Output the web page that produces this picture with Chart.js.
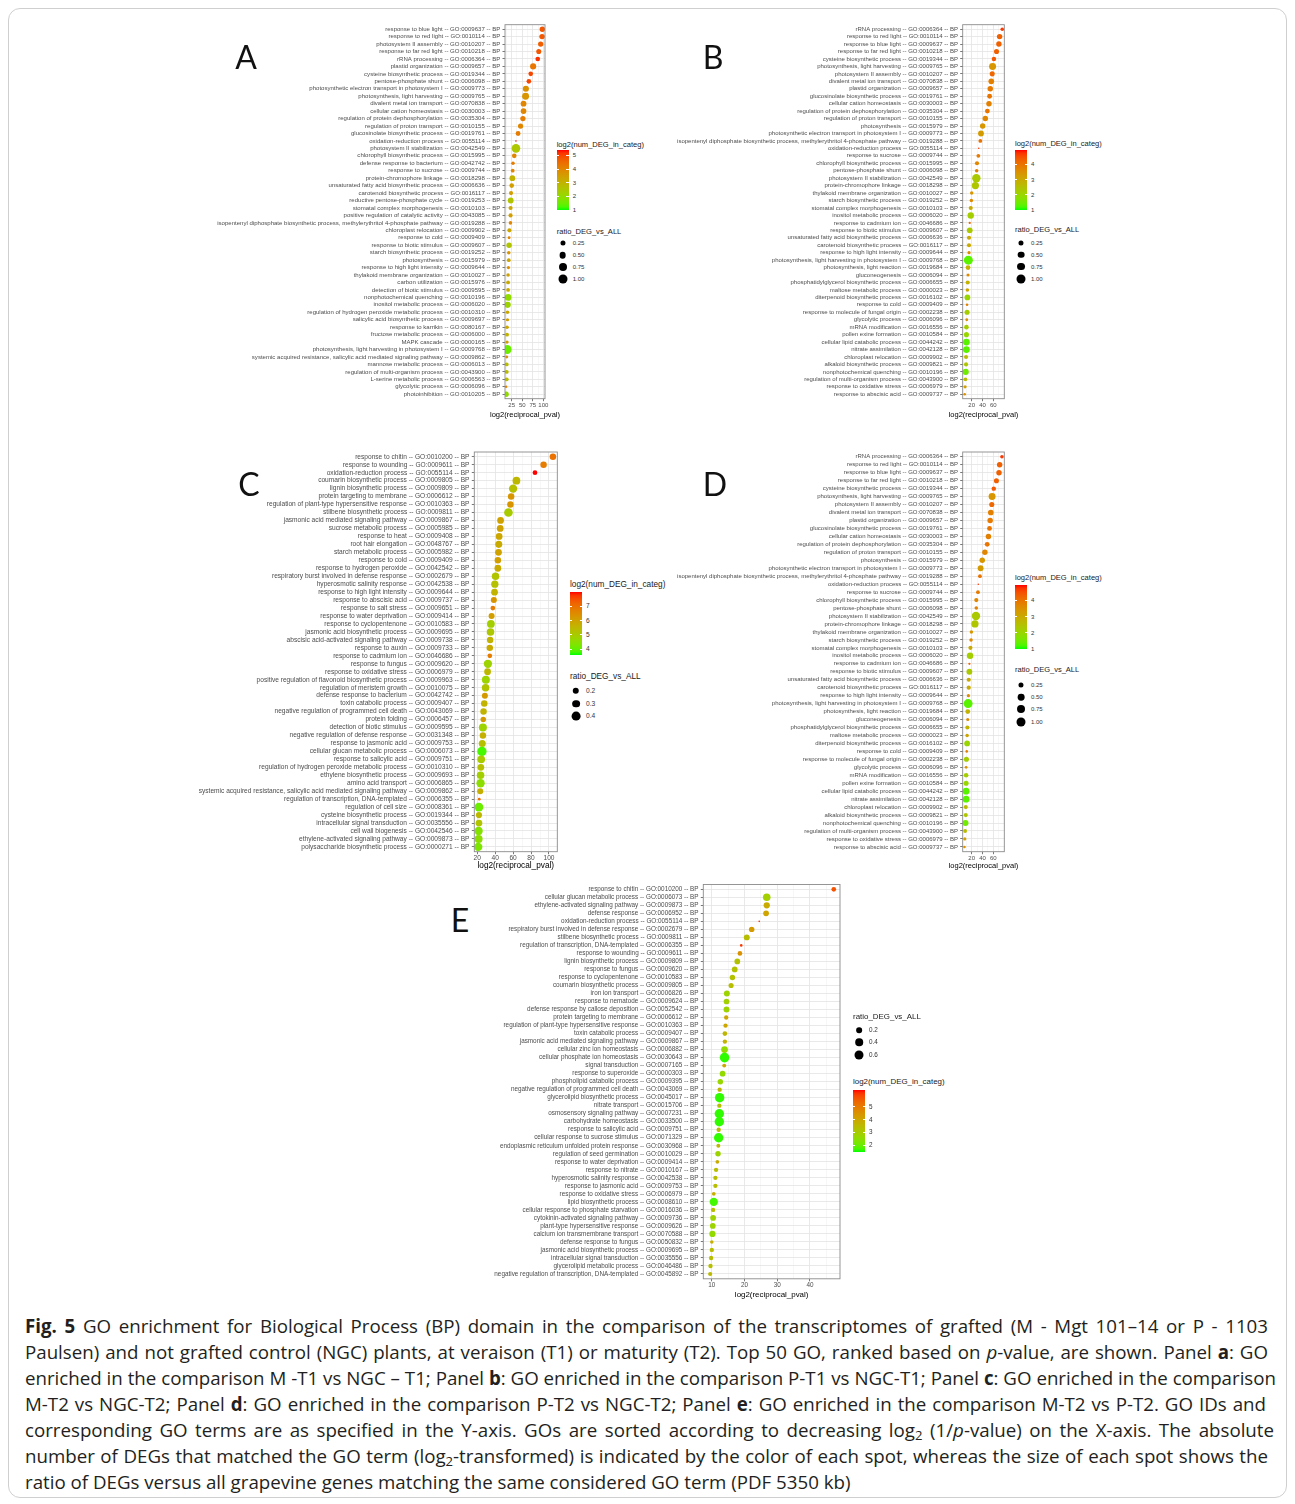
<!DOCTYPE html>
<html>
<head>
<meta charset="utf-8">
<script src="https://cdn.jsdelivr.net/npm/chart.js@4.4.1/dist/chart.umd.min.js"></script>
<style>
  html, body { margin:0; padding:0; background:#fff; }
  body { width:1295px; height:1504px; position:relative; overflow:hidden; }
  #frame { position:absolute; left:8px; top:8px; width:1279px; height:1490px; border:1px solid #cfcfcf; border-radius:12px; box-sizing:border-box; }
  canvas { position:absolute; }
  .letter { position:absolute; font-family:Lato, "Open Sans", sans-serif; font-size:32px; line-height:1; color:#111; transform:translate(-50%,-50%); }
  .lg { position:absolute; font-family:"Liberation Sans", Arial, sans-serif; color:#1a1a1a; white-space:nowrap; line-height:1; transform:translateY(-50%); }
  .xt { position:absolute; font-family:"Liberation Sans", Arial, sans-serif; color:#000; white-space:nowrap; line-height:1; transform:translate(-50%,-50%); }
  .dot { position:absolute; border-radius:50%; background:#000; transform:translate(-50%,-50%); }
  .bar { position:absolute; }
  .tk { position:absolute; background:#fff; height:1px; }
  #caption { position:absolute; left:25px; top:1313px; font-family:"Open Sans", sans-serif; font-size:18px; line-height:26px; color:#231f20; }
  #caption div { white-space:nowrap; display:block; }
  #caption span.l { display:inline-block; }
  sub { font-size:0.7em; vertical-align:-0.25em; line-height:0; }
</style>
</head>
<body>
<div id="frame"></div>
<div id="root"></div>
<div id="caption">
<div><span class="l"><b>Fig. 5</b> GO enrichment for Biological Process (BP) domain in the comparison of the transcriptomes of grafted (M - Mgt 101–14 or P - 1103</span></div>
<div><span class="l">Paulsen) and not grafted control (NGC) plants, at veraison (T1) or maturity (T2). Top 50 GO, ranked based on <i>p</i>-value, are shown. Panel <b>a</b>: GO</span></div>
<div><span class="l">enriched in the comparison M -T1 vs NGC – T1; Panel <b>b</b>: GO enriched in the comparison P-T1 vs NGC-T1; Panel <b>c</b>: GO enriched in the comparison</span></div>
<div><span class="l">M-T2 vs NGC-T2; Panel <b>d</b>: GO enriched in the comparison P-T2 vs NGC-T2; Panel <b>e</b>: GO enriched in the comparison M-T2 vs P-T2. GO IDs and</span></div>
<div><span class="l">corresponding GO terms are as specified in the Y-axis. GOs are sorted according to decreasing log<sub>2</sub> (1/<i>p</i>-value) on the X-axis. The absolute</span></div>
<div><span class="l">number of DEGs that matched the GO term (log<sub>2</sub>-transformed) is indicated by the color of each spot, whereas the size of each spot shows the</span></div>
<div><span class="l">ratio of DEGs versus all grapevine genes matching the same considered GO term (PDF 5350 kb)</span></div>
</div>
<script>
// ---------------- DATA ----------------
const termsA = [
'response to blue light -- GO:0009637 -- BP',
'response to red light -- GO:0010114 -- BP',
'photosystem II assembly -- GO:0010207 -- BP',
'response to far red light -- GO:0010218 -- BP',
'rRNA processing -- GO:0006364 -- BP',
'plastid organization -- GO:0009657 -- BP',
'cysteine biosynthetic process -- GO:0019344 -- BP',
'pentose-phosphate shunt -- GO:0006098 -- BP',
'photosynthetic electron transport in photosystem I -- GO:0009773 -- BP',
'photosynthesis, light harvesting -- GO:0009765 -- BP',
'divalent metal ion transport -- GO:0070838 -- BP',
'cellular cation homeostasis -- GO:0030003 -- BP',
'regulation of protein dephosphorylation -- GO:0035304 -- BP',
'regulation of proton transport -- GO:0010155 -- BP',
'glucosinolate biosynthetic process -- GO:0019761 -- BP',
'oxidation-reduction process -- GO:0055114 -- BP',
'photosystem II stabilization -- GO:0042549 -- BP',
'chlorophyll biosynthetic process -- GO:0015995 -- BP',
'defense response to bacterium -- GO:0042742 -- BP',
'response to sucrose -- GO:0009744 -- BP',
'protein-chromophore linkage -- GO:0018298 -- BP',
'unsaturated fatty acid biosynthetic process -- GO:0006636 -- BP',
'carotenoid biosynthetic process -- GO:0016117 -- BP',
'reductive pentose-phosphate cycle -- GO:0019253 -- BP',
'stomatal complex morphogenesis -- GO:0010103 -- BP',
'positive regulation of catalytic activity -- GO:0043085 -- BP',
'isopentenyl diphosphate biosynthetic process, methylerythritol 4-phosphate pathway -- GO:0019288 -- BP',
'chloroplast relocation -- GO:0009902 -- BP',
'response to cold -- GO:0009409 -- BP',
'response to biotic stimulus -- GO:0009607 -- BP',
'starch biosynthetic process -- GO:0019252 -- BP',
'photosynthesis -- GO:0015979 -- BP',
'response to high light intensity -- GO:0009644 -- BP',
'thylakoid membrane organization -- GO:0010027 -- BP',
'carbon utilization -- GO:0015976 -- BP',
'detection of biotic stimulus -- GO:0009595 -- BP',
'nonphotochemical quenching -- GO:0010196 -- BP',
'inositol metabolic process -- GO:0006020 -- BP',
'regulation of hydrogen peroxide metabolic process -- GO:0010310 -- BP',
'salicylic acid biosynthetic process -- GO:0009697 -- BP',
'response to karrikin -- GO:0080167 -- BP',
'fructose metabolic process -- GO:0006000 -- BP',
'MAPK cascade -- GO:0000165 -- BP',
'photosynthesis, light harvesting in photosystem I -- GO:0009768 -- BP',
'systemic acquired resistance, salicylic acid mediated signaling pathway -- GO:0009862 -- BP',
'mannose metabolic process -- GO:0006013 -- BP',
'regulation of multi-organism process -- GO:0043900 -- BP',
'L-serine metabolic process -- GO:0006563 -- BP',
'glycolytic process -- GO:0006096 -- BP',
'photoinhibition -- GO:0010205 -- BP'
];
const xA = [97.5,96.8,93.6,89,86.6,75.7,70,65.6,58.5,57.8,53,53,51.5,46,40,35,35,31,28,27.3,26.5,25,23.4,22.6,22.3,22.3,22,19.5,18.8,18.8,18,18,17.2,16.4,16.4,16.4,16.4,15.6,15,15,14,14,14,14,13.3,13.3,13.3,13.3,11.7,11.7];
const cA = [4.8,4.8,4.7,4.8,5.2,4.3,5.0,5.0,3.8,3.7,4.0,4.0,4.2,4.0,4.2,5.4,2.5,4.0,4.2,4.0,3.0,3.5,3.5,2.6,3.3,3.5,4.0,3.3,4.0,2.6,3.7,3.3,3.8,3.4,3.2,3.2,2.0,2.2,3.3,3.5,3.3,3.0,3.5,1.5,3.8,2.8,2.8,2.8,4.0,2.0];
const sA = [0.3,0.3,0.28,0.25,0.2,0.4,0.2,0.2,0.4,0.55,0.35,0.33,0.28,0.27,0.22,0.03,0.9,0.2,0.1,0.12,0.35,0.2,0.15,0.35,0.15,0.15,0.1,0.15,0.06,0.3,0.1,0.12,0.08,0.1,0.12,0.12,0.5,0.4,0.1,0.08,0.1,0.12,0.08,1.0,0.06,0.12,0.12,0.12,0.05,0.3];

const termsB = [
'rRNA processing -- GO:0006364 -- BP',
'response to red light -- GO:0010114 -- BP',
'response to blue light -- GO:0009637 -- BP',
'response to far red light -- GO:0010218 -- BP',
'cysteine biosynthetic process -- GO:0019344 -- BP',
'photosynthesis, light harvesting -- GO:0009765 -- BP',
'photosystem II assembly -- GO:0010207 -- BP',
'divalent metal ion transport -- GO:0070838 -- BP',
'plastid organization -- GO:0009657 -- BP',
'glucosinolate biosynthetic process -- GO:0019761 -- BP',
'cellular cation homeostasis -- GO:0030003 -- BP',
'regulation of protein dephosphorylation -- GO:0035304 -- BP',
'regulation of proton transport -- GO:0010155 -- BP',
'photosynthesis -- GO:0015979 -- BP',
'photosynthetic electron transport in photosystem I -- GO:0009773 -- BP',
'isopentenyl diphosphate biosynthetic process, methylerythritol 4-phosphate pathway -- GO:0019288 -- BP',
'oxidation-reduction process -- GO:0055114 -- BP',
'response to sucrose -- GO:0009744 -- BP',
'chlorophyll biosynthetic process -- GO:0015995 -- BP',
'pentose-phosphate shunt -- GO:0006098 -- BP',
'photosystem II stabilization -- GO:0042549 -- BP',
'protein-chromophore linkage -- GO:0018298 -- BP',
'thylakoid membrane organization -- GO:0010027 -- BP',
'starch biosynthetic process -- GO:0019252 -- BP',
'stomatal complex morphogenesis -- GO:0010103 -- BP',
'inositol metabolic process -- GO:0006020 -- BP',
'response to cadmium ion -- GO:0046686 -- BP',
'response to biotic stimulus -- GO:0009607 -- BP',
'unsaturated fatty acid biosynthetic process -- GO:0006636 -- BP',
'carotenoid biosynthetic process -- GO:0016117 -- BP',
'response to high light intensity -- GO:0009644 -- BP',
'photosynthesis, light harvesting in photosystem I -- GO:0009768 -- BP',
'photosynthesis, light reaction -- GO:0019684 -- BP',
'gluconeogenesis -- GO:0006094 -- BP',
'phosphatidylglycerol biosynthetic process -- GO:0006655 -- BP',
'maltose metabolic process -- GO:0000023 -- BP',
'diterpenoid biosynthetic process -- GO:0016102 -- BP',
'response to cold -- GO:0009409 -- BP',
'response to molecule of fungal origin -- GO:0002238 -- BP',
'glycolytic process -- GO:0006096 -- BP',
'mRNA modification -- GO:0016556 -- BP',
'pollen exine formation -- GO:0010584 -- BP',
'cellular lipid catabolic process -- GO:0044242 -- BP',
'nitrate assimilation -- GO:0042128 -- BP',
'chloroplast relocation -- GO:0009902 -- BP',
'alkaloid biosynthetic process -- GO:0009821 -- BP',
'nonphotochemical quenching -- GO:0010196 -- BP',
'regulation of multi-organism process -- GO:0043900 -- BP',
'response to oxidative stress -- GO:0006979 -- BP',
'response to abscisic acid -- GO:0009737 -- BP'
];
const xB = [76.6,71.7,70.4,66,61.2,58.7,58,56.3,54.4,53.2,52,49,45.2,40.3,37.2,36,33,32.3,29.8,29.2,28.6,26.8,20,19.4,18.2,18.2,16.3,16.3,15,15,15,13.8,13.2,13.2,12.6,12,12,11.4,11.4,10.8,10.2,10.2,10.2,10.2,9.5,9.5,8.9,8.3,7.7,7];
const cB = [4.7,4.3,4.3,4.3,4.4,3.4,4.2,3.8,3.9,4.0,3.8,4.0,3.7,3.4,3.3,4.0,4.7,3.9,3.7,3.8,2.3,2.4,3.4,3.6,3.0,2.2,4.2,2.3,3.0,3.0,3.6,1.3,2.8,3.6,2.8,3.1,2.0,3.8,2.2,3.5,2.2,2.0,1.3,1.3,2.6,2.4,1.5,2.6,3.2,3.5];
const sB = [0.1,0.3,0.3,0.25,0.18,0.55,0.25,0.33,0.3,0.22,0.3,0.22,0.3,0.3,0.35,0.12,0.03,0.12,0.15,0.1,0.85,0.6,0.1,0.1,0.15,0.45,0.04,0.35,0.15,0.15,0.08,1.0,0.22,0.07,0.15,0.1,0.35,0.05,0.25,0.06,0.2,0.25,0.5,0.5,0.15,0.15,0.4,0.12,0.08,0.05];

const termsC = [
'response to chitin -- GO:0010200 -- BP',
'response to wounding -- GO:0009611 -- BP',
'oxidation-reduction process -- GO:0055114 -- BP',
'coumarin biosynthetic process -- GO:0009805 -- BP',
'lignin biosynthetic process -- GO:0009809 -- BP',
'protein targeting to membrane -- GO:0006612 -- BP',
'regulation of plant-type hypersensitive response -- GO:0010363 -- BP',
'stilbene biosynthetic process -- GO:0009811 -- BP',
'jasmonic acid mediated signaling pathway -- GO:0009867 -- BP',
'sucrose metabolic process -- GO:0005985 -- BP',
'response to heat -- GO:0009408 -- BP',
'root hair elongation -- GO:0048767 -- BP',
'starch metabolic process -- GO:0005982 -- BP',
'response to cold -- GO:0009409 -- BP',
'response to hydrogen peroxide -- GO:0042542 -- BP',
'respiratory burst involved in defense response -- GO:0002679 -- BP',
'hyperosmotic salinity response -- GO:0042538 -- BP',
'response to high light intensity -- GO:0009644 -- BP',
'response to abscisic acid -- GO:0009737 -- BP',
'response to salt stress -- GO:0009651 -- BP',
'response to water deprivation -- GO:0009414 -- BP',
'response to cyclopentenone -- GO:0010583 -- BP',
'jasmonic acid biosynthetic process -- GO:0009695 -- BP',
'abscisic acid-activated signaling pathway -- GO:0009738 -- BP',
'response to auxin -- GO:0009733 -- BP',
'response to cadmium ion -- GO:0046686 -- BP',
'response to fungus -- GO:0009620 -- BP',
'response to oxidative stress -- GO:0006979 -- BP',
'positive regulation of flavonoid biosynthetic process -- GO:0009963 -- BP',
'regulation of meristem growth -- GO:0010075 -- BP',
'defense response to bacterium -- GO:0042742 -- BP',
'toxin catabolic process -- GO:0009407 -- BP',
'negative regulation of programmed cell death -- GO:0043069 -- BP',
'protein folding -- GO:0006457 -- BP',
'detection of biotic stimulus -- GO:0009595 -- BP',
'negative regulation of defense response -- GO:0031348 -- BP',
'response to jasmonic acid -- GO:0009753 -- BP',
'cellular glucan metabolic process -- GO:0006073 -- BP',
'response to salicylic acid -- GO:0009751 -- BP',
'regulation of hydrogen peroxide metabolic process -- GO:0010310 -- BP',
'ethylene biosynthetic process -- GO:0009693 -- BP',
'amino acid transport -- GO:0006865 -- BP',
'systemic acquired resistance, salicylic acid mediated signaling pathway -- GO:0009862 -- BP',
'regulation of transcription, DNA-templated -- GO:0006355 -- BP',
'regulation of cell size -- GO:0008361 -- BP',
'cysteine biosynthetic process -- GO:0019344 -- BP',
'intracellular signal transduction -- GO:0035556 -- BP',
'cell wall biogenesis -- GO:0042546 -- BP',
'ethylene-activated signaling pathway -- GO:0009873 -- BP',
'polysaccharide biosynthetic process -- GO:0000271 -- BP'
];
const xC = [104.4,94,84.4,63.7,60,57.8,57,54.8,46,45.6,44.4,44,43.7,43,43,40.4,39.6,39.3,38.5,37.4,36,35.2,34.8,34.4,34,34,31.9,31.5,29.6,29.3,28.5,27.8,27,26.7,26.3,26.3,25.6,25.2,24.4,24,23.7,23.7,23.3,22.2,21.9,21.9,21.9,21.5,21.5,21.1];
const cC = [7.0,6.8,8.0,5.5,5.3,6.3,6.3,5.0,6.0,6.0,5.9,5.8,6.0,6.1,5.8,5.2,5.3,5.6,6.3,6.8,6.1,4.9,5.1,5.6,5.8,6.8,4.8,5.5,4.8,5.2,6.2,5.6,5.6,6.2,4.8,5.7,5.3,3.8,5.0,5.3,4.9,4.5,5.7,7.0,4.1,5.5,5.2,4.4,4.5,4.3];
const sC = [0.2,0.2,0.1,0.3,0.35,0.2,0.2,0.38,0.22,0.22,0.22,0.24,0.22,0.2,0.22,0.28,0.26,0.22,0.17,0.1,0.17,0.3,0.28,0.2,0.2,0.1,0.35,0.22,0.32,0.28,0.17,0.2,0.2,0.14,0.32,0.2,0.24,0.45,0.3,0.22,0.28,0.35,0.17,0.04,0.4,0.18,0.22,0.35,0.32,0.35];

const termsD = termsB.slice();
const xD = [76,71.8,70.6,65.8,60.9,57.8,57.2,55.4,54.2,53,51,48.7,44.4,39.5,36.5,35.3,32.2,31.6,28.5,28.5,27.9,26,19.4,18.8,17.6,17,15.7,15.7,14.5,14.5,13.9,13.3,12.7,12.7,12,11.5,11.5,10.8,10.2,9.6,9.6,9.6,9.6,9.6,9,9,8.4,7.8,7.2,6.6];
const cD = [4.7,4.3,4.3,4.3,4.4,3.4,4.2,3.8,3.9,4.0,3.8,4.0,3.7,3.4,3.3,4.0,4.7,3.9,3.7,3.8,2.3,2.4,3.4,3.6,3.0,2.2,4.2,2.3,3.0,3.0,3.6,1.3,2.8,3.6,2.8,3.1,2.0,3.8,2.2,3.5,2.2,2.0,1.3,1.3,2.6,2.4,1.5,2.6,3.2,3.5];
const sD = [0.1,0.3,0.3,0.25,0.18,0.55,0.25,0.33,0.3,0.22,0.3,0.22,0.3,0.3,0.35,0.12,0.03,0.12,0.15,0.1,0.85,0.6,0.1,0.1,0.15,0.45,0.04,0.35,0.15,0.15,0.08,1.0,0.22,0.07,0.15,0.1,0.35,0.05,0.25,0.06,0.2,0.25,0.5,0.5,0.15,0.15,0.4,0.12,0.08,0.05];

const termsE = [
'response to chitin -- GO:0010200 -- BP',
'cellular glucan metabolic process -- GO:0006073 -- BP',
'ethylene-activated signaling pathway -- GO:0009873 -- BP',
'defense response -- GO:0006952 -- BP',
'oxidation-reduction process -- GO:0055114 -- BP',
'respiratory burst involved in defense response -- GO:0002679 -- BP',
'stilbene biosynthetic process -- GO:0009811 -- BP',
'regulation of transcription, DNA-templated -- GO:0006355 -- BP',
'response to wounding -- GO:0009611 -- BP',
'lignin biosynthetic process -- GO:0009809 -- BP',
'response to fungus -- GO:0009620 -- BP',
'response to cyclopentenone -- GO:0010583 -- BP',
'coumarin biosynthetic process -- GO:0009805 -- BP',
'iron ion transport -- GO:0006826 -- BP',
'response to nematode -- GO:0009624 -- BP',
'defense response by callose deposition -- GO:0052542 -- BP',
'protein targeting to membrane -- GO:0006612 -- BP',
'regulation of plant-type hypersensitive response -- GO:0010363 -- BP',
'toxin catabolic process -- GO:0009407 -- BP',
'jasmonic acid mediated signaling pathway -- GO:0009867 -- BP',
'cellular zinc ion homeostasis -- GO:0006882 -- BP',
'cellular phosphate ion homeostasis -- GO:0030643 -- BP',
'signal transduction -- GO:0007165 -- BP',
'response to superoxide -- GO:0000303 -- BP',
'phospholipid catabolic process -- GO:0009395 -- BP',
'negative regulation of programmed cell death -- GO:0043069 -- BP',
'glycerolipid biosynthetic process -- GO:0045017 -- BP',
'nitrate transport -- GO:0015706 -- BP',
'osmosensory signaling pathway -- GO:0007231 -- BP',
'carbohydrate homeostasis -- GO:0033500 -- BP',
'response to salicylic acid -- GO:0009751 -- BP',
'cellular response to sucrose stimulus -- GO:0071329 -- BP',
'endoplasmic reticulum unfolded protein response -- GO:0030968 -- BP',
'regulation of seed germination -- GO:0010029 -- BP',
'response to water deprivation -- GO:0009414 -- BP',
'response to nitrate -- GO:0010167 -- BP',
'hyperosmotic salinity response -- GO:0042538 -- BP',
'response to jasmonic acid -- GO:0009753 -- BP',
'response to oxidative stress -- GO:0006979 -- BP',
'lipid biosynthetic process -- GO:0008610 -- BP',
'cellular response to phosphate starvation -- GO:0016036 -- BP',
'cytokinin-activated signaling pathway -- GO:0009736 -- BP',
'plant-type hypersensitive response -- GO:0009626 -- BP',
'calcium ion transmembrane transport -- GO:0070588 -- BP',
'defense response to fungus -- GO:0050832 -- BP',
'jasmonic acid biosynthetic process -- GO:0009695 -- BP',
'intracellular signal transduction -- GO:0035556 -- BP',
'glycerolipid metabolic process -- GO:0046486 -- BP',
'negative regulation of transcription, DNA-templated -- GO:0045892 -- BP'
];
const xE = [47.3,26.8,26.8,26.6,24.5,22.2,20.7,19,18.6,17.8,17,16.3,15.9,14.6,14.5,14.5,14.4,14.2,14,14,13.9,13.9,13.8,13.3,12.6,12.4,12.4,12.3,12.3,12.3,12.1,12.1,12,11.9,11.7,11.3,11.1,11.1,10.6,10.6,10.4,10.4,10.3,10.2,10,10,9.8,9.6,9.5];
const cE = [5.7,2.9,3.9,4.1,6.2,4.3,3.4,6.0,4.5,3.3,3.3,3.3,3.4,2.8,2.9,2.8,4.0,4.0,3.6,3.7,2.6,1.6,4.0,2.6,2.7,3.6,1.6,3.4,1.6,1.6,3.5,1.6,3.6,2.8,3.9,3.4,3.4,3.4,3.8,1.7,3.4,2.8,2.8,2.6,3.8,3.4,3.4,3.4,3.5];
const sE = [0.12,0.4,0.25,0.2,0.02,0.18,0.22,0.03,0.12,0.2,0.2,0.18,0.15,0.22,0.2,0.22,0.1,0.1,0.12,0.1,0.3,0.7,0.08,0.2,0.18,0.1,0.67,0.1,0.67,0.67,0.1,0.67,0.08,0.18,0.07,0.1,0.1,0.1,0.07,0.5,0.1,0.2,0.2,0.25,0.06,0.1,0.1,0.1,0.09];

// ---------------- COLOUR (ggplot-like Lab gradient green -> red) ----------------
function lin(c){c/=255;return c<=0.04045?c/12.92:Math.pow((c+0.055)/1.055,2.4);}
function gam(c){c=c<=0.0031308?12.92*c:1.055*Math.pow(c,1/2.4)-0.055;return Math.round(Math.min(1,Math.max(0,c))*255);}
const WX=0.95047,WY=1,WZ=1.08883;
function toLab(rgb){const r=lin(rgb[0]),g=lin(rgb[1]),b=lin(rgb[2]);
  const x=(0.4124564*r+0.3575761*g+0.1804375*b)/WX, y=(0.2126729*r+0.7151522*g+0.0721750*b)/WY, z=(0.0193339*r+0.1191920*g+0.9503041*b)/WZ;
  const f=t=>t>0.008856?Math.cbrt(t):7.787*t+16/116;
  const fx=f(x),fy=f(y),fz=f(z); return [116*fy-16,500*(fx-fy),200*(fy-fz)];}
function fromLab(L,a,bb){const fy=(L+16)/116,fx=fy+a/500,fz=fy-bb/200;
  const fi=t=>{const t3=t*t*t;return t3>0.008856?t3:(t-16/116)/7.787;};
  const x=fi(fx)*WX,y=fi(fy)*WY,z=fi(fz)*WZ;
  const r=3.2404542*x-1.5371385*y-0.4985314*z, g=-0.9692660*x+1.8760108*y+0.0415560*z, b=0.0556434*x-0.2040259*y+1.0572252*z;
  return 'rgb('+gam(r)+','+gam(g)+','+gam(b)+')';}
const LLO=toLab([0,255,0]), LHI=toLab([255,0,0]);
function grad(t){t=Math.max(0,Math.min(1,t));return fromLab(LLO[0]+(LHI[0]-LLO[0])*t,LLO[1]+(LHI[1]-LLO[1])*t,LLO[2]+(LHI[2]-LLO[2])*t);}
function colorFor(c,lim){return grad((c-lim[0])/(lim[1]-lim[0]));}
function diamFor(s,lim,k){const t=Math.max(0,Math.min(1,(s-lim[0])/(lim[1]-lim[0])));return k*(1+5*Math.sqrt(t));}

// ---------------- LAYOUT ----------------
const panels = [
 {letter:'A', lx:246, ly:57, terms:termsA, x:xA, c:cA, s:sA, cvl:200, cvr:556,
  plot:{l:505,t:24.7,r:545,b:398.7}, titleY:415.3, xmin:9.1, xmax:103.8,
  major:[25,50,75,100], minor:[12.5,37.5,62.5,87.5], font:6.05, cLim:[1,5.4], sLim:[0.03,1.0], k:1.5,
  leg:{x:556.7, colorTitleY:145, barTop:150, barBot:210, cTicks:[1,2,3,4,5], sizeTitleY:231.7, sItems:[[0.25,243.3],[0.5,255],[0.75,266.7],[1.0,279]], sLabels:['0.25','0.50','0.75','1.00']}},
 {letter:'B', lx:713, ly:57, terms:termsB, x:xB, c:cB, s:sB, cvl:665, cvr:1012,
  plot:{l:962.7,t:24.7,r:1004.3,b:398.7}, titleY:415.3, xmin:3.3, xmax:80.4,
  major:[20,40,60], minor:[10,30,50,70], font:6.0, cLim:[1,4.95], sLim:[0.03,1.0], k:1.5,
  leg:{x:1015, colorTitleY:143.5, barTop:150, barBot:210, cTicks:[1,2,3,4], sizeTitleY:229.5, sItems:[[0.25,242.5],[0.5,254.5],[0.75,266.5],[1.0,279]], sLabels:['0.25','0.50','0.75','1.00']}},
 {letter:'C', lx:249, ly:484, terms:termsC, x:xC, c:cC, s:sC, cvl:190, cvr:566,
  plot:{l:474.3,t:452,r:557.3,b:851.7}, titleY:865.7, xmin:16.7, xmax:109.3,
  major:[20,40,60,80,100], minor:[30,50,70,90], font:6.6, cLim:[3.6,8.0], sLim:[0.03,0.45], k:1.55,
  leg:{x:570, colorTitleY:585, barTop:592, barBot:655, cTicks:[4,5,6,7], sizeTitleY:677, sItems:[[0.2,691],[0.3,703.5],[0.4,716]], sLabels:['0.2','0.3','0.4']}},
 {letter:'D', lx:715, ly:484, terms:termsD, x:xD, c:cD, s:sD, cvl:665, cvr:1012,
  plot:{l:962.7,t:452,r:1004.3,b:851.7}, titleY:866, xmin:3.3, xmax:80.4,
  major:[20,40,60], minor:[10,30,50,70], font:6.0, cLim:[1,4.95], sLim:[0.03,1.0], k:1.5,
  leg:{x:1015, colorTitleY:578, barTop:585, barBot:649, cTicks:[1,2,3,4], sizeTitleY:670, sItems:[[0.25,685],[0.5,697],[0.75,709],[1.0,722]], sLabels:['0.25','0.50','0.75','1.00']}},
 {letter:'E', lx:460, ly:920, terms:termsE, x:xE, c:cE, s:sE, cvl:485, cvr:848,
  plot:{l:703.3,t:884.5,r:840,b:1278.8}, titleY:1295.3, xmin:7.4, xmax:49.2,
  major:[10,20,30,40], minor:[15,25,35,45], font:6.35, cLim:[1.5,6.3], sLim:[0.02,0.7], k:1.6,
  leg:{x:853, colorTitleY:1082, barTop:1090, barBot:1151.7, cTicks:[2,3,4,5], sizeTitleY:1016.7, sItems:[[0.2,1030],[0.4,1042.3],[0.6,1055]], sLabels:['0.2','0.4','0.6']}}
];

const root = document.getElementById('root');
const FONT = '"Liberation Sans", Arial, Helvetica, sans-serif';

const borderPlugin = {
  id:'panelBorder',
  afterDatasetsDraw(chart){
    const a = chart.chartArea, ctx = chart.ctx;
    ctx.save(); ctx.strokeStyle = '#8a8a8a'; ctx.lineWidth = 0.9;
    ctx.strokeRect(a.left, a.top, a.right - a.left, a.bottom - a.top);
    ctx.restore();
  }
};

function addDiv(cls, css, text){
  const d = document.createElement('div'); d.className = cls;
  Object.assign(d.style, css); if (text !== undefined) d.textContent = text;
  root.appendChild(d); return d;
}

function buildPanel(p){
  const titleSize = p.font * 1.25;
  const titleLH = titleSize * 1.2;
  const bottom = p.titleY + titleLH / 2;
  const cvT = Math.floor(p.plot.t - 9);
  const cvB = Math.ceil(bottom + 1);
  const W = p.cvr - p.cvl, H = cvB - cvT;
  const cvs = document.createElement('canvas');
  cvs.width = W; cvs.height = H;
  cvs.style.left = p.cvl + 'px'; cvs.style.top = cvT + 'px';
  cvs.style.width = W + 'px'; cvs.style.height = H + 'px';
  root.appendChild(cvs);
  const padTop = p.plot.t - cvT, padRight = p.cvr - p.plot.r, padBottom = cvB - bottom;
  const yWidth = p.plot.l - p.cvl, xHeight = bottom - p.plot.b;
  const n = p.terms.length;
  const xTicks = p.major.concat(p.minor).sort((a,b)=>a-b);
  const isMajor = v => p.major.indexOf(v) >= 0;

  new Chart(cvs, {
    type: 'bubble',
    data: { datasets: [{
      data: p.x.map((v,i)=>({x:v, y:i, c:p.c[i], s:p.s[i]})),
      backgroundColor: ctx => ctx.raw ? colorFor(ctx.raw.c, p.cLim) : '#000',
      borderWidth: 0,
      radius: ctx => ctx.raw ? diamFor(ctx.raw.s, p.sLim, p.k) / 2 : 1,
      hoverRadius: 0
    }]},
    options: {
      responsive:false, animation:false, devicePixelRatio:1, events:[],
      layout:{ padding:{ left:0, top:padTop, right:padRight, bottom:padBottom } },
      plugins:{ legend:{display:false}, tooltip:{enabled:false} },
      scales:{
        x:{ type:'linear', position:'bottom', min:p.xmin, max:p.xmax, bounds:'data',
            afterBuildTicks: s => { s.ticks = xTicks.map(v=>({value:v})); },
            afterFit: s => { s.height = xHeight; },
            ticks:{ autoSkip:false, maxRotation:0, minRotation:0, padding:0.5, color:'#4d4d4d',
                    font:{family:FONT, size:p.font},
                    callback: v => isMajor(v) ? String(v) : '' },
            grid:{ color: ctx => (ctx.tick && isMajor(ctx.tick.value)) ? '#e3e3e3' : '#efefef',
                   lineWidth: ctx => (ctx.tick && isMajor(ctx.tick.value)) ? 0.8 : 0.5,
                   tickLength:2.5, tickWidth:0.8,
                   tickColor: ctx => (ctx.tick && isMajor(ctx.tick.value)) ? '#555' : 'rgba(0,0,0,0)' },
            border:{ display:false },
            title:{ display:false } },
        y:{ type:'linear', position:'left', reverse:true, min:-0.6, max:n-0.4, bounds:'data',
            afterBuildTicks: s => { s.ticks = p.terms.map((_,i)=>({value:i})); },
            afterFit: s => { s.width = yWidth; },
            ticks:{ autoSkip:false, padding:2.3, color:'#4d4d4d', font:{family:FONT, size:p.font},
                    callback: v => p.terms[v] },
            grid:{ color:'#e3e3e3', lineWidth:0.8, tickLength:2.5, tickWidth:0.8, tickColor:'#555' },
            border:{ display:false } }
      }
    },
    plugins:[borderPlugin]
  });

  addDiv('xt', {left:((p.plot.l+p.plot.r)/2)+'px', top:p.titleY+'px', fontSize:titleSize+'px'}, 'log2(reciprocal_pval)');
  addDiv('letter', {left:p.lx+'px', top:p.ly+'px'}, p.letter);

  const L = p.leg;
  addDiv('lg', {left:L.x+'px', top:L.colorTitleY+'px', fontSize:titleSize+'px'}, 'log2(num_DEG_in_categ)');
  const stops = [];
  for (let i=0;i<=20;i++){ const v = p.cLim[0] + (p.cLim[1]-p.cLim[0])*i/20; stops.push(colorFor(v,p.cLim)+' '+(i*5)+'%'); }
  const barH = L.barBot - L.barTop, barW = 12;
  addDiv('bar', {left:L.x+'px', top:L.barTop+'px', width:barW+'px', height:barH+'px', background:'linear-gradient(to top,'+stops.join(',')+')'});
  L.cTicks.forEach(v => {
    const y = L.barBot - (v - p.cLim[0])/(p.cLim[1]-p.cLim[0])*barH;
    addDiv('tk', {left:L.x+'px', top:(y-0.5)+'px', width:'2.4px'});
    addDiv('tk', {left:(L.x+barW-2.4)+'px', top:(y-0.5)+'px', width:'2.4px'});
    addDiv('lg', {left:(L.x+barW+4)+'px', top:y+'px', fontSize:p.font+'px', color:'#333'}, String(v));
  });
  addDiv('lg', {left:L.x+'px', top:L.sizeTitleY+'px', fontSize:titleSize+'px'}, 'ratio_DEG_vs_ALL');
  L.sItems.forEach((it, j) => {
    const d = diamFor(it[0], p.sLim, p.k);
    addDiv('dot', {left:(L.x+6)+'px', top:it[1]+'px', width:d+'px', height:d+'px'});
    addDiv('lg', {left:(L.x+barW+4)+'px', top:it[1]+'px', fontSize:p.font+'px', color:'#333'}, L.sLabels[j]);
  });
}

panels.forEach(buildPanel);

// caption: choose the font size so that the densest line fits its width, then justify the others with word spacing
const cap = document.getElementById('caption');
const spans = Array.from(document.querySelectorAll('#caption span.l'));
const targets = [1243, 1243, 1251, 1241, 1249, 1243];
let ratio = Infinity;
spans.forEach((sp, i) => { if (i < targets.length) ratio = Math.min(ratio, targets[i] / sp.getBoundingClientRect().width); });
cap.style.fontSize = (18 * ratio) + 'px';
spans.forEach((sp, i) => {
  if (i >= targets.length) return;
  const w = sp.getBoundingClientRect().width;
  const spaces = (sp.textContent.match(/ /g) || []).length;
  if (spaces > 0) sp.style.wordSpacing = Math.max(0, (targets[i] - w) / spaces) + 'px';
});
</script>
</body>
</html>
